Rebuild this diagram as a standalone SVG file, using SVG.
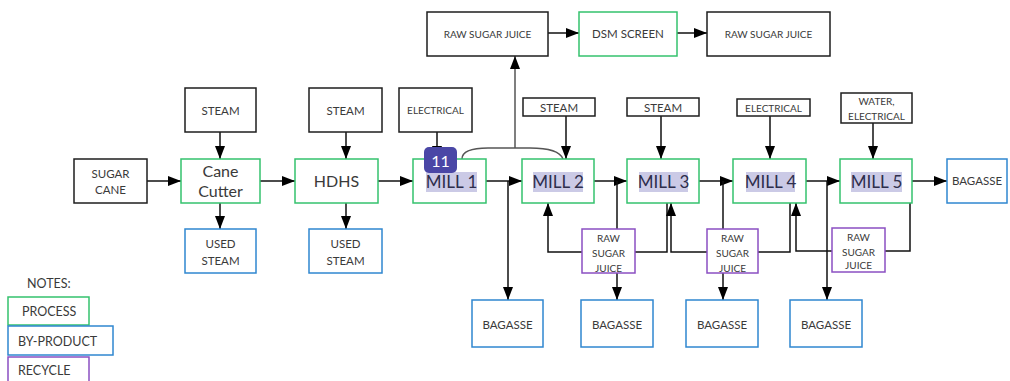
<svg xmlns="http://www.w3.org/2000/svg" width="1010" height="381" viewBox="0 0 1010 381">
<style>
.b{fill:#fff;stroke-width:1.5}
.k{stroke:#1e1e1e}
.g{stroke:#35c26e}
.u{stroke:#2f87d0}
.p{stroke:#8b4fc2}
text{font-family:Lato,"Noto Sans",sans-serif;fill:#3a3a3a;text-anchor:middle}
.s{font-size:11.5px}
.xs{font-size:10px}
.m{font-size:16px}
.mill{font-size:17px;fill:#2e2e4c}
.hl{fill:#cbcae6}
.c path{fill:none;stroke:#111;stroke-width:1.5}
.c path.a{marker-end:url(#ah)}
.leg{text-anchor:start;font-size:12.5px}
</style>
<defs>
<marker id="ah" markerUnits="userSpaceOnUse" markerWidth="14" markerHeight="11" refX="13" refY="5" orient="auto">
<path d="M0,0 L13,5 L0,10 z" fill="#000"/>
</marker>
</defs>

<g class="c" id="connectors">
<path class="a" d="M147,181 H181"/>
<path class="a" d="M220,132 V159"/>
<path class="a" d="M220,203 V229"/>
<path class="a" d="M260,181 H295"/>
<path class="a" d="M346,132 V159"/>
<path class="a" d="M346,203 V229"/>
<path class="a" d="M378,181 H413"/>
<path class="a" d="M437,132 V159"/>
<path class="a" d="M486,181 H522"/>
<path d="M462,159 C462,151 472,148 488,148 L530,148 C548,148 560,151 563,159" style="stroke:#555"/>
<path class="a" d="M515,148 V56" style="stroke:#555"/>
<path class="a" d="M548,33 H579"/>
<path class="a" d="M677,33 H707"/>
<path class="a" d="M566,116 V159"/>
<path class="a" d="M661,116 V159"/>
<path class="a" d="M770,116 V159"/>
<path class="a" d="M873,123 V159"/>
<path class="a" d="M594,181 H627"/>
<path class="a" d="M699,181 H733"/>
<path class="a" d="M806,181 H840"/>
<path class="a" d="M912,181 H947"/>
<path class="a" d="M508,181 V300"/>
<path class="a" d="M617,181 V300"/>
<path class="a" d="M723,181 V300"/>
<path class="a" d="M827,181 V300"/>
<path class="a" d="M582,252 H548 V203"/>
<path d="M635,252 H667 V203"/>
<path class="a" d="M707,252 H671 V203"/>
<path d="M758,252 H790 V203"/>
<path class="a" d="M832,251 H796 V203"/>
<path d="M885,251 H910 V203"/>
</g>

<g id="sugar-cane"><rect class="b k" x="74" y="159" width="73" height="44"/><text class="s" x="110.5" y="178">SUGAR</text><text class="s" x="110.5" y="194">CANE</text></g>
<g id="steam-1"><rect class="b k" x="185" y="88" width="71" height="44"/><text class="s" x="220.5" y="115">STEAM</text></g>
<g id="cane-cutter"><rect class="b g" x="181" y="159" width="79" height="44"/><text class="m" x="220.5" y="177">Cane</text><text class="m" x="220.5" y="197">Cutter</text></g>
<g id="used-steam-1"><rect class="b u" x="185" y="229" width="71" height="44"/><text class="s" x="220.5" y="248">USED</text><text class="s" x="220.5" y="265">STEAM</text></g>
<g id="steam-2"><rect class="b k" x="309" y="88" width="73" height="44"/><text class="s" x="345.5" y="115">STEAM</text></g>
<g id="hdhs"><rect class="b g" x="295" y="159" width="83" height="44"/><text class="m" x="336.5" y="187">HDHS</text></g>
<g id="used-steam-2"><rect class="b u" x="309" y="229" width="73" height="44"/><text class="s" x="345.5" y="248">USED</text><text class="s" x="345.5" y="265">STEAM</text></g>
<g id="electrical-1"><rect class="b k" x="399" y="88" width="73" height="44"/><text class="xs" x="435.5" y="114">ELECTRICAL</text></g>
<g id="mill-1"><rect class="b g" x="413" y="159" width="73" height="44"/><rect class="hl" x="426" y="172" width="51" height="20"/><text class="mill" x="451.5" y="188">MILL 1</text></g>
<g id="raw-sugar-juice-top"><rect class="b k" x="427" y="12" width="121" height="44"/><text class="xs" x="487.5" y="38">RAW SUGAR JUICE</text></g>
<g id="dsm-screen"><rect class="b g" x="579" y="12" width="98" height="44"/><text class="s" x="628" y="38">DSM SCREEN</text></g>
<g id="raw-sugar-juice-out"><rect class="b k" x="707" y="12" width="123" height="44"/><text class="xs" x="768.5" y="38">RAW SUGAR JUICE</text></g>
<g id="steam-3"><rect class="b k" x="523" y="98" width="72" height="18"/><text class="s" x="559" y="112">STEAM</text></g>
<g id="steam-4"><rect class="b k" x="627" y="98" width="72" height="18"/><text class="s" x="663" y="112">STEAM</text></g>
<g id="electrical-2"><rect class="b k" x="737" y="99" width="73" height="17"/><text class="xs" x="773.5" y="112">ELECTRICAL</text></g>
<g id="water-electrical"><rect class="b k" x="841" y="93" width="71" height="30"/><text class="xs" x="876.5" y="105">WATER,</text><text class="xs" x="876.5" y="120">ELECTRICAL</text></g>
<g id="mill-2"><rect class="b g" x="522" y="159" width="72" height="44"/><rect class="hl" x="533" y="172" width="50" height="20"/><text class="mill" x="558" y="188">MILL 2</text></g>
<g id="mill-3"><rect class="b g" x="627" y="159" width="72" height="44"/><rect class="hl" x="639" y="172" width="49" height="20"/><text class="mill" x="663.5" y="188">MILL 3</text></g>
<g id="mill-4"><rect class="b g" x="733" y="159" width="73" height="44"/><rect class="hl" x="746" y="172" width="49" height="20"/><text class="mill" x="770.5" y="188">MILL 4</text></g>
<g id="mill-5"><rect class="b g" x="840" y="159" width="72" height="44"/><rect class="hl" x="851" y="172" width="51" height="20"/><text class="mill" x="876.5" y="188">MILL 5</text></g>
<g id="bagasse-out"><rect class="b u" x="947" y="159" width="60" height="44"/><text class="s" x="977" y="185">BAGASSE</text></g>
<g id="recycle-1"><rect class="b p" x="582" y="229" width="53" height="44"/><text class="xs" x="608.5" y="242">RAW</text><text class="xs" x="608.5" y="257">SUGAR</text><text class="xs" x="608.5" y="272">JUICE</text></g>
<g id="recycle-2"><rect class="b p" x="707" y="229" width="51" height="44"/><text class="xs" x="732.5" y="242">RAW</text><text class="xs" x="732.5" y="257">SUGAR</text><text class="xs" x="732.5" y="272">JUICE</text></g>
<g id="recycle-3"><rect class="b p" x="832" y="228" width="53" height="44"/><text class="xs" x="858.5" y="241">RAW</text><text class="xs" x="858.5" y="256">SUGAR</text><text class="xs" x="858.5" y="269">JUICE</text></g>
<g id="bagasse-1"><rect class="b u" x="472" y="300" width="71" height="47"/><text class="s" x="507.5" y="329">BAGASSE</text></g>
<g id="bagasse-2"><rect class="b u" x="581" y="300" width="72" height="47"/><text class="s" x="617" y="329">BAGASSE</text></g>
<g id="bagasse-3"><rect class="b u" x="686" y="300" width="72" height="47"/><text class="s" x="722" y="329">BAGASSE</text></g>
<g id="bagasse-4"><rect class="b u" x="790" y="300" width="72" height="47"/><text class="s" x="826" y="329">BAGASSE</text></g>

<g id="badge"><rect x="424" y="147" width="33" height="26" rx="5" fill="#4a47a6"/><text x="440.5" y="167" style="font-size:16px;fill:#fff">11</text></g>

<g id="legend">
<text class="leg" x="27" y="288">NOTES:</text>
<rect class="b g" x="8" y="297" width="81" height="28"/><text class="leg" x="22" y="316">PROCESS</text>
<rect class="b u" x="8" y="326" width="105" height="29"/><text class="leg" x="18" y="346">BY-PRODUCT</text>
<rect class="b p" x="8" y="357" width="81" height="30"/><text class="leg" x="18" y="375">RECYCLE</text>
</g>
</svg>
